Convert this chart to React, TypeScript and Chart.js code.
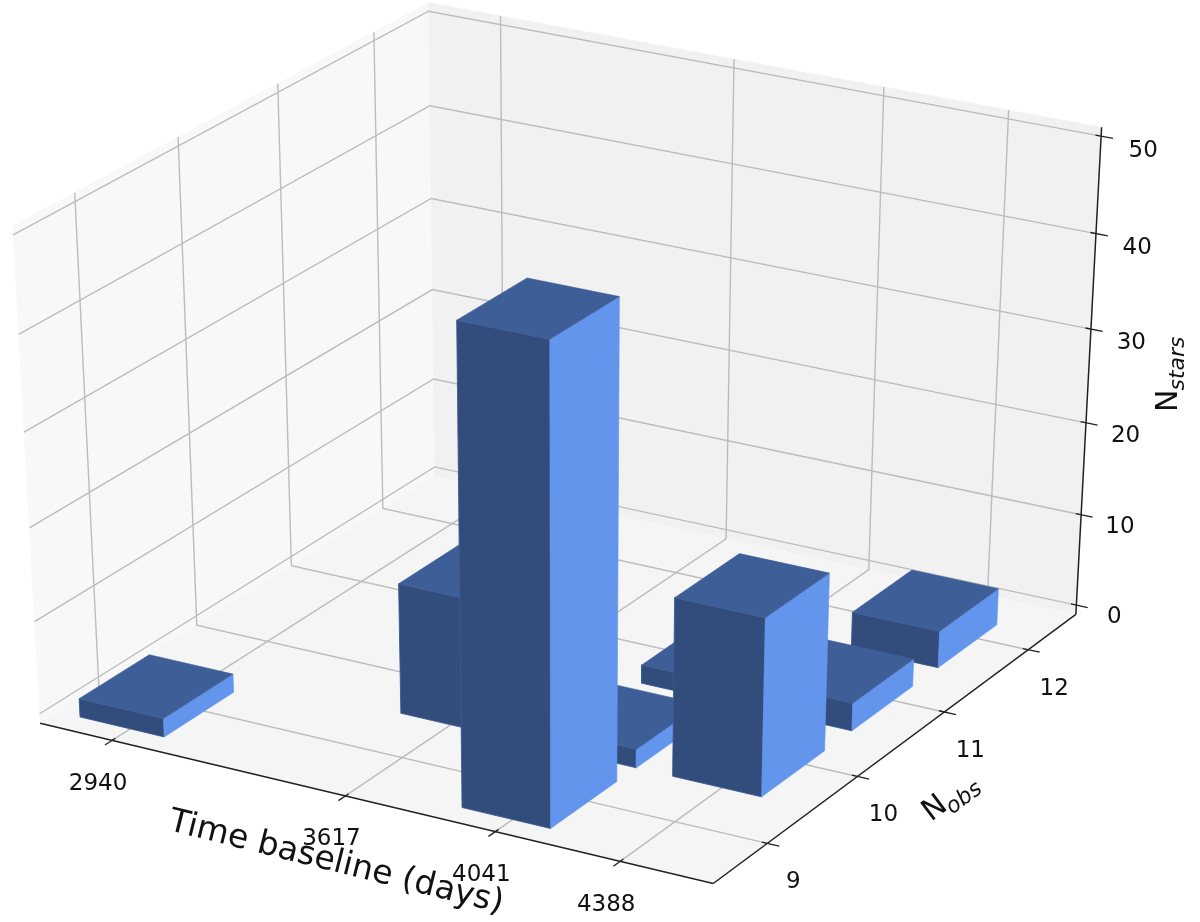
import React, { useEffect, useRef } from "react";
import { Chart, registerables } from "chart.js";

Chart.register(...registerables);

// ---- data ----
const xTicks = [2940, 3617, 4041, 4388];
const yTicks = [9, 10, 11, 12];
const zTicks = [0, 10, 20, 30, 40, 50];
const barXStart = [2825, 3503, 3928, 3928, 3928, 4278, 4278, 4278];
const barYStart = [8.49, 9.4, 8.49, 9.4, 10.41, 9.4, 10.41, 11.41];
const barHeights = [2, 14, 50, 2, 2, 19, 3, 4];
const barDX = 248;
const barDY = 0.7;
const xLim = [2727, 4643];
const yLim = [8.417, 12.584];
const zLim = [-1.04, 50.9];

const xTitle = "Time baseline (days)";

// ---- view ----
const W = 1200;
const H = 922;
const ELEV = (30 * Math.PI) / 180;
const AZIM = (-60 * Math.PI) / 180;
const DIST = 10;
const SX = 777;
const SY = 568;
const CX = 566;
const CY = 428;

const w = [Math.cos(ELEV) * Math.cos(AZIM), Math.cos(ELEV) * Math.sin(AZIM), Math.sin(ELEV)];
const un = Math.hypot(w[1], w[0]);
const u = [-w[1] / un, w[0] / un, 0];
const v = [w[1] * u[2] - w[2] * u[1], w[2] * u[0] - w[0] * u[2], w[0] * u[1] - w[1] * u[0]];
const dot = (a: number[], b: number[]) => a[0] * b[0] + a[1] * b[1] + a[2] * b[2];

// world = unit cube coordinates
function proj(tx: number, ty: number, tz: number) {
  const q = [tx - 0.5, ty - 0.5, tz - 0.5];
  const f = DIST / (DIST - dot(w, q));
  return { x: CX + SX * dot(u, q) * f, y: CY - SY * dot(v, q) * f };
}
const nx = (d: number) => (d - xLim[0]) / (xLim[1] - xLim[0]);
const ny = (d: number) => (d - yLim[0]) / (yLim[1] - yLim[0]);
const nz = (d: number) => (d - zLim[0]) / (zLim[1] - zLim[0]);

type Pt = { x: number; y: number };
type Layer = { pts: Pt[]; fill?: string; stroke: string; width: number };

function buildLayers(): Layer[] {
  const L: Layer[] = [];
  const poly = (c: number[][], fill: string, edge?: string, ew = 0.6) => {
    const pts = c.map((p) => proj(p[0], p[1], p[2]));
    pts.push(pts[0]);
    L.push({ pts, fill, stroke: edge ?? fill, width: ew });
  };
  const line = (c: number[][], stroke: string, width: number) =>
    L.push({ pts: c.map((p) => proj(p[0], p[1], p[2])), stroke, width });

  // panes
  poly([[0, 0, 0], [0, 1, 0], [0, 1, 1], [0, 0, 1]], "#f8f8f8");
  poly([[0, 1, 0], [1, 1, 0], [1, 1, 1], [0, 1, 1]], "#f1f1f1");
  poly([[0, 0, 0], [1, 0, 0], [1, 1, 0], [0, 1, 0]], "#f5f5f5");

  // grid
  const grid = "#bcbcbc";
  xTicks.forEach((t) => {
    const a = nx(t);
    line([[a, 0, 0], [a, 1, 0], [a, 1, 1]], grid, 1.4);
  });
  yTicks.forEach((t) => {
    const b = ny(t);
    line([[0, b, 1], [0, b, 0], [1, b, 0]], grid, 1.4);
  });
  zTicks.forEach((t) => {
    const c = nz(t);
    line([[0, 0, c], [0, 1, c], [1, 1, c]], grid, 1.4);
  });

  // axes
  const axis = "#222222";
  line([[0, 0, 0], [1, 0, 0]], axis, 1.5);
  line([[1, 0, 0], [1, 1, 0]], axis, 1.5);
  line([[1, 1, 0], [1, 1, 1]], axis, 1.5);
  xTicks.forEach((t) => line([[nx(t), -0.017, 0], [nx(t), 0.008, 0]], axis, 1.3));
  yTicks.forEach((t) => line([[0.992, ny(t), 0], [1.017, ny(t), 0]], axis, 1.3));
  zTicks.forEach((t) => line([[0.992, 1, nz(t)], [1.017, 1, nz(t)]], axis, 1.3));

  // bars, back to front
  const idx = barHeights.map((_, i) => i);
  idx.sort((a, b) => barYStart[b] - barYStart[a] || barXStart[a] - barXStart[b]);
  idx.forEach((i) => {
    const x0 = nx(barXStart[i]);
    const x1 = nx(barXStart[i] + barDX);
    const y0 = ny(barYStart[i]);
    const y1 = ny(barYStart[i] + barDY);
    const z0 = nz(0);
    const z1 = nz(barHeights[i]);
    poly([[x0, y0, z0], [x1, y0, z0], [x1, y0, z1], [x0, y0, z1]], "#324c7b", "#3b5b94", 0.9);
    poly([[x1, y0, z0], [x1, y1, z0], [x1, y1, z1], [x1, y0, z1]], "#6495ed");
    poly([[x0, y0, z1], [x1, y0, z1], [x1, y1, z1], [x0, y1, z1]], "#3e5e98");
  });
  return L;
}

const FONT = '"DejaVu Sans"';

const textPlugin = {
  id: "axisText",
  afterDraw(chart: any) {
    const { ctx, scales } = chart;
    const sx = (p: number) => scales.x.getPixelForValue(p);
    const sy = (p: number) => scales.y.getPixelForValue(p);
    const put = (t: string, x: number, y: number, font: string, rot = 0) => {
      ctx.save();
      ctx.translate(x, y);
      ctx.rotate((rot * Math.PI) / 180);
      ctx.font = font;
      ctx.fillStyle = "#111111";
      ctx.textAlign = "center";
      ctx.textBaseline = "middle";
      ctx.fillText(t, 0, 0);
      ctx.restore();
    };
    const tickFont = `23px ${FONT}`;
    xTicks.forEach((t) => {
      const p = proj(nx(t), 0, 0);
      put(String(t), sx(p.x) - 14, sy(p.y) + 43.5, tickFont);
    });
    yTicks.forEach((t) => {
      const p = proj(1, ny(t), 0);
      put(String(t), sx(p.x) + 26, sy(p.y) + 39, tickFont);
    });
    zTicks.forEach((t) => {
      const p = proj(1, 1, nz(t));
      put(String(t), sx(p.x) + 38 + 0.08 * t, sy(p.y) + 12 + 0.06 * t, tickFont);
    });
    put(xTitle, sx(336), sy(863), `33px ${FONT}`, 14);

    const sub = (x: number, y: number, rot: number, main: string, low: string) => {
      ctx.save();
      ctx.translate(sx(x), sy(y));
      ctx.rotate((rot * Math.PI) / 180);
      ctx.fillStyle = "#111111";
      ctx.textBaseline = "alphabetic";
      ctx.textAlign = "left";
      ctx.font = `30px ${FONT}`;
      ctx.fillText(main, 0, 0);
      const mw = ctx.measureText(main).width;
      ctx.font = `italic 22px ${FONT}`;
      ctx.fillText(low, mw - 1, 7);
      ctx.restore();
    };
    sub(931, 822, -37, "N", "obs");
    sub(1177, 412, -90, "N", "stars");
  },
};

export default function App() {
  const ref = useRef<HTMLCanvasElement>(null);
  useEffect(() => {
    document.body.style.margin = "0";
    document.body.style.background = "#ffffff";
    const layers = buildLayers();
    const chart = new Chart(ref.current as HTMLCanvasElement, {
      type: "scatter",
      data: {
        // Chart.js paints the first dataset last
        datasets: layers
          .slice()
          .reverse()
          .map((l) => ({
            data: l.pts,
            showLine: true,
            fill: l.fill ? "shape" : false,
            backgroundColor: l.fill ?? "transparent",
            borderColor: l.stroke,
            borderWidth: l.width,
            pointRadius: 0,
            pointHoverRadius: 0,
            tension: 0,
            clip: false,
          })) as any,
      },
      options: {
        animation: false,
        responsive: false,
        events: [],
        layout: { padding: 0 },
        plugins: { legend: { display: false }, tooltip: { enabled: false } },
        scales: {
          x: { type: "linear", display: false, min: 0, max: W },
          y: { type: "linear", display: false, min: 0, max: H, reverse: true },
        },
      },
      plugins: [textPlugin],
    });
    return () => chart.destroy();
  }, []);
  return <canvas ref={ref} width={W} height={H} style={{ display: "block", filter: "blur(0.5px)" }} />;
}
